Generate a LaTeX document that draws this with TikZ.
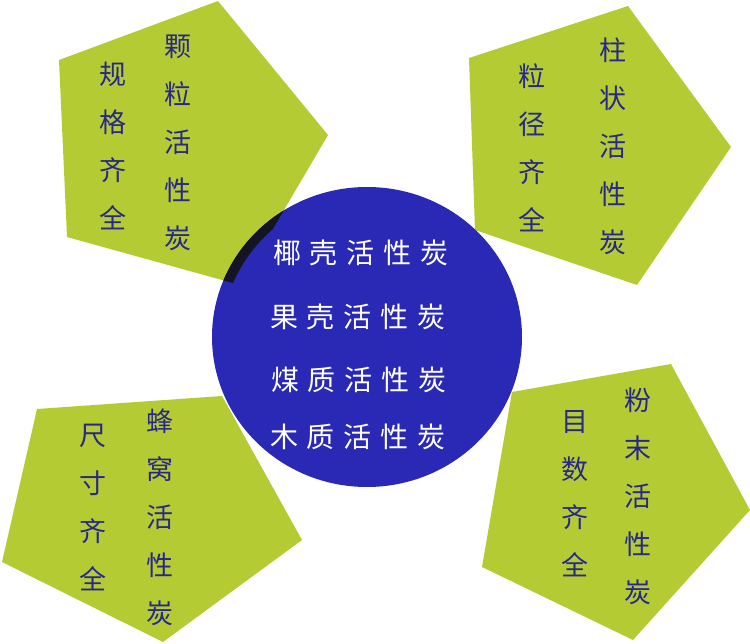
\documentclass[tikz,border=0pt]{standalone}
\usepackage{fontspec}
\usepackage{tikz}
\newfontfamily\cjk{Noto Sans CJK SC}
\definecolor{leaf}{RGB}{181,203,52}
\definecolor{disc}{RGB}{41,41,181}
\definecolor{ink}{RGB}{40,40,140}
\definecolor{rim}{RGB}{20,20,35}
\newcommand{\gap}{\hspace{9pt}}
\tikzset{
  pillar/.style={font=\cjk\fontsize{27}{48}\selectfont, text=ink, align=center, inner sep=0pt},
  rowtext/.style={font=\cjk\fontsize{28}{30}\selectfont, text=white, inner sep=0pt},
  pent/.style={fill=leaf}
}
\begin{document}
\begin{tikzpicture}[x=1pt,y=-1pt]
       \useasboundingbox (0,0) rectangle (750,644);

       \fill[pent] (59,60) -- (218,1) -- (328,135) -- (240,285) -- (67,237) -- cycle;
       \fill[pent] (469,58) -- (628,6) -- (731,147) -- (637,285) -- (475,230) -- cycle;
       \fill[pent] (37,409) -- (222,396) -- (302,540) -- (163,642) -- (2,562) -- cycle;
       \fill[pent] (512,392) -- (671,364) -- (750,510) -- (633,640) -- (482,567) -- cycle;

       \fill[disc] (367,337) ellipse [x radius=155, y radius=150];
       \begin{scope}
         \clip (59,60) -- (218,1) -- (328,135) -- (240,285) -- (67,237) -- cycle;
         \fill[rim, even odd rule] (367,337) ellipse [x radius=155, y radius=150]
                                   (376,341) ellipse [x radius=155, y radius=150];
       \end{scope}

       \node(tlA)[pillar] at (178,143) {颗\\粒\\活\\性\\炭};
       \node(tlB)[pillar] at (113,146) {规\\格\\齐\\全};

       \node(trA)[pillar] at (613,146) {柱\\状\\活\\性\\炭};
       \node(trB)[pillar] at (532,148) {粒\\径\\齐\\全};

       \node(blA)[pillar] at (160,517) {蜂\\窝\\活\\性\\炭};
       \node(blB)[pillar] at (93,508) {尺\\寸\\齐\\全};

       \node(brA)[pillar] at (638,496) {粉\\末\\活\\性\\炭};
       \node(brB)[pillar] at (575,494) {目\\数\\齐\\全};

       \node(row1)[rowtext] at (361,253) {椰\gap 壳\gap 活\gap 性\gap 炭};
       \node(row2)[rowtext] at (358,317) {果\gap 壳\gap 活\gap 性\gap 炭};
       \node(row3)[rowtext] at (359,380) {煤\gap 质\gap 活\gap 性\gap 炭};
       \node(row4)[rowtext] at (358,437) {木\gap 质\gap 活\gap 性\gap 炭};
\end{tikzpicture}
\end{document}
